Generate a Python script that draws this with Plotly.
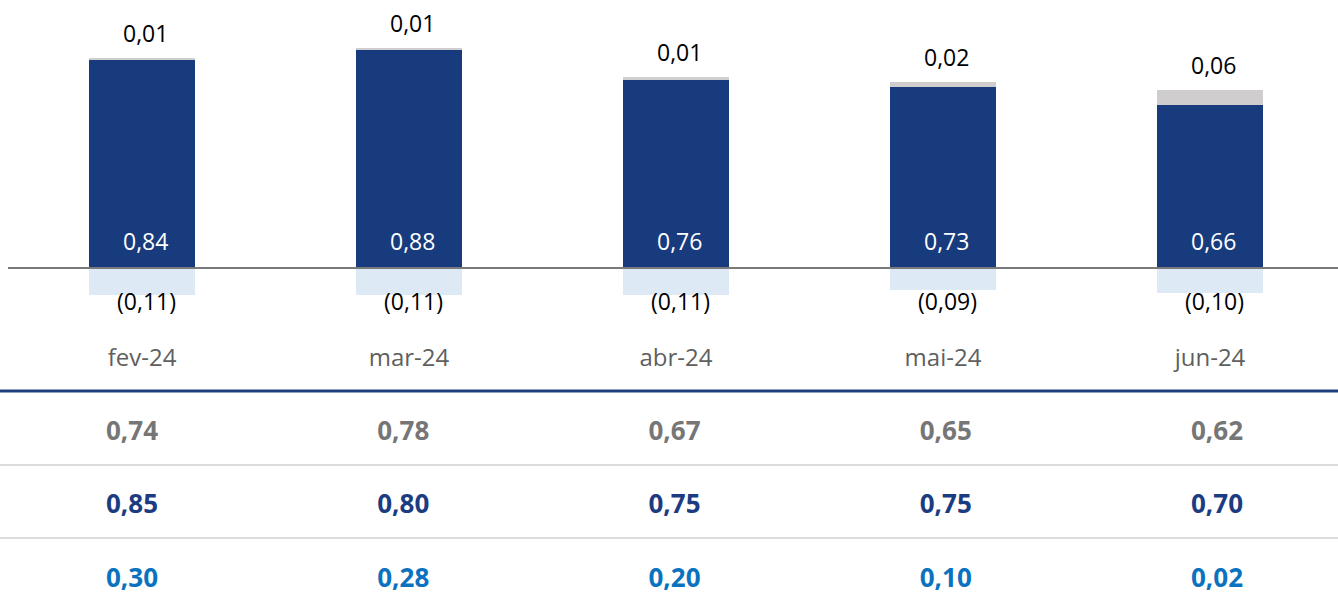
import plotly.graph_objects as go

categories = ["fev-24", "mar-24", "abr-24", "mai-24", "jun-24"]
main_values = [0.84, 0.88, 0.76, 0.73, 0.66]
top_values = [0.01, 0.01, 0.01, 0.02, 0.06]
neg_values = [-0.11, -0.11, -0.11, -0.09, -0.10]
row1_values = [0.74, 0.78, 0.67, 0.65, 0.62]
row2_values = [0.85, 0.80, 0.75, 0.75, 0.70]
row3_values = [0.30, 0.28, 0.20, 0.10, 0.02]

FONT = "Open Sans"
BLUE = "#183B7E"
GRAY = "#CFCDCD"
LIGHT = "#DDEAF6"


def fmt(v):
    return f"{abs(v):.2f}".replace(".", ",")


W, H = 1338, 593
fig = go.Figure()

fig.add_trace(go.Bar(x=categories, y=main_values, marker=dict(color=BLUE, line=dict(width=0)),
                     width=0.397, hoverinfo="skip", showlegend=False))
fig.add_trace(go.Bar(x=categories, y=top_values, marker=dict(color=GRAY, line=dict(width=0)),
                     width=0.397, hoverinfo="skip", showlegend=False))
fig.add_trace(go.Bar(x=categories, y=neg_values, marker=dict(color=LIGHT, line=dict(width=0)),
                     width=0.397, hoverinfo="skip", showlegend=False))

# table rows as text traces on second axes
row_colors = ["#767676", "#1C3C82", "#0A72BE"]
for r, (vals, col) in enumerate(zip([row1_values, row2_values, row3_values], row_colors)):
    fig.add_trace(go.Scatter(x=categories, y=[r] * len(categories), mode="text",
                             text=[fmt(v) for v in vals], textposition="middle center",
                             textfont=dict(family=FONT, size=26, color=col, weight="bold"),
                             xaxis="x2", yaxis="y2", hoverinfo="skip", showlegend=False))

annotations = []
for c, m, t, n in zip(categories, main_values, top_values, neg_values):
    annotations.append(dict(x=c, y=m + t, xref="x", yref="y", text=fmt(t), showarrow=False,
                            yanchor="bottom", yshift=7, xshift=3,
                            font=dict(family=FONT, size=23, color="#000000")))
    annotations.append(dict(x=c, y=0, xref="x", yref="y", text=fmt(m), showarrow=False,
                            yanchor="bottom", yshift=9, xshift=3,
                            font=dict(family=FONT, size=23, color="#FFFFFF")))
    annotations.append(dict(x=c, y=0, xref="x", yref="y", text="(" + fmt(n) + ")", showarrow=False,
                            yanchor="top", yshift=-15, xshift=4,
                            font=dict(family=FONT, size=23, color="#000000")))

shapes = [
    dict(type="line", xref="paper", yref="y", x0=8 / W, x1=1, y0=0, y1=0,
         line=dict(color="#7A7A7A", width=2)),
    dict(type="line", xref="paper", yref="y2", x0=0, x1=1, y0=-0.571, y1=-0.571,
         line=dict(color="#1F3E7C", width=3)),
    dict(type="line", xref="paper", yref="y2", x0=0, x1=1, y0=0.435, y1=0.435,
         line=dict(color="#DCDCDC", width=2)),
    dict(type="line", xref="paper", yref="y2", x0=0, x1=1, y0=1.429, y1=1.429,
         line=dict(color="#DCDCDC", width=2)),
]

fig.update_layout(
    width=W, height=H,
    margin=dict(l=0, r=0, t=0, b=0),
    paper_bgcolor="white", plot_bgcolor="rgba(0,0,0,0)",
    barmode="relative", bargap=0,
    font=dict(family=FONT),
    annotations=annotations, shapes=shapes,
    xaxis=dict(domain=[0, 1], range=[-142 / 267, (W - 142) / 267], showgrid=False, zeroline=False,
               showline=False, ticks="", tickfont=dict(family=FONT, size=24, color="#5F5F5F"),
               ticklabelstandoff=11, fixedrange=True),
    yaxis=dict(domain=[1 - 330 / H, 1], range=[-(330 - 268) / 247.6, 268 / 247.6],
               showgrid=False, zeroline=False, showticklabels=False, showline=False, fixedrange=True),
    xaxis2=dict(domain=[0, 1], range=[-132 / 271.25, (W - 132) / 271.25], anchor="y2",
                showgrid=False, zeroline=False, showticklabels=False, showline=False,
                type="category", fixedrange=True),
    yaxis2=dict(domain=[0, 1], range=[(H - 433) / 73.5, -433 / 73.5], anchor="x2",
                showgrid=False, zeroline=False, showticklabels=False, showline=False, fixedrange=True),
)

fig.write_html("out.html", config={"displayModeBar": False},
               post_script="document.body.style.margin='0';document.body.style.overflow='hidden';")
